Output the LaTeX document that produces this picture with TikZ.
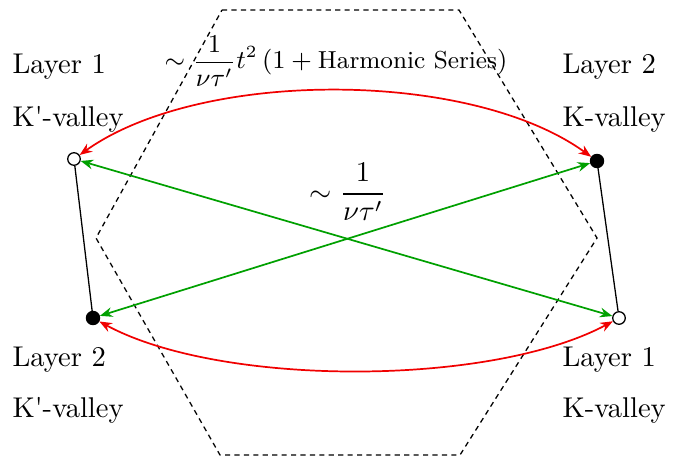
\documentclass[tikz,border=0pt]{standalone}
\usepackage{amsmath}
\usetikzlibrary{arrows.meta}
\definecolor{arrred}{RGB}{240,0,0}
\definecolor{arrgreen}{RGB}{0,160,0}
\begin{document}
\begin{tikzpicture}[x=0.35pt,y=-0.35pt,
  lbl/.style={anchor=base west,inner sep=0pt,font=\normalsize},
  opendot/.style={circle,draw=black,fill=white,line width=0.45pt,inner sep=0pt,minimum size=4.4pt},
  fulldot/.style={circle,draw=black,fill=black,line width=0.45pt,inner sep=0pt,minimum size=4.6pt},
  hop/.style={line width=0.6pt,{Stealth[length=4.4pt,width=3.4pt]}-{Stealth[length=4.4pt,width=3.4pt]}},
  redhop/.style={hop,draw=arrred},
  greenhop/.style={hop,draw=arrgreen},
  bz/.style={dash pattern=on 1.8pt off 1.5pt,line width=0.45pt},
  pair/.style={line width=0.45pt}]
\useasboundingbox (0,0) rectangle (683,462);
% Brillouin zone hexagon
\draw[bz] (222,10) -- (459,10) -- (597,238) -- (460,455) -- (220,455) -- (96,238) -- cycle;
% valley points
\node[opendot] (A) at (74,159) {};
\node[fulldot] (B) at (597,161) {};
\node[fulldot] (C) at (93,318) {};
\node[opendot] (D) at (619,318) {};
\draw[pair] (A) -- (C);
\draw[pair] (B) -- (D);
% labels
\node[lbl] (l1) at (12,73) {Layer 1};
\node[lbl] (l2) at (12,126) {K\textquotesingle-valley};
\node[lbl] (l3) at (12,366) {Layer 2};
\node[lbl] (l4) at (12,417) {K\textquotesingle-valley};
\node[lbl] (r1) at (562,73) {Layer 2};
\node[lbl] (r2) at (562,126) {K-valley};
\node[lbl] (r3) at (562,366) {Layer 1};
\node[lbl] (r4) at (562,417) {K-valley};
% rates
\node[inner sep=0pt,font=\fontsize{8.6}{10}\selectfont] (top) at (336,61) {$\sim \dfrac{1}{\nu\tau'}t^2\,(1+\text{Harmonic Series})$};
\node[inner sep=0pt,font=\normalsize] (mid) at (348,192) {$\sim \dfrac{1}{\nu\tau'}$};
% hopping arrows
\draw[redhop] (A) .. controls (200,69) and (470,69) .. (B);
\draw[redhop] (C) .. controls (220,387) and (490,387) .. (D);
\draw[greenhop] (A) -- (D);
\draw[greenhop] (C) -- (B);
\end{tikzpicture}
\end{document}
